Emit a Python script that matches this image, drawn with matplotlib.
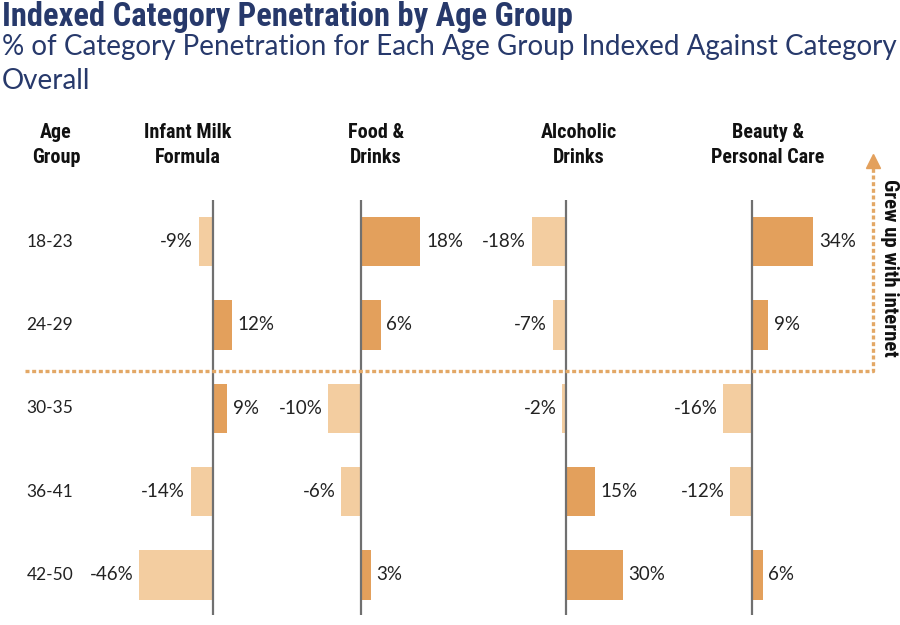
import matplotlib
matplotlib.use("Agg")
import matplotlib.pyplot as plt
from matplotlib import font_manager, transforms
from matplotlib.lines import Line2D

age_groups = ["18-23", "24-29", "30-35", "36-41", "42-50"]
categories = ["Infant Milk\nFormula", "Food &\nDrinks", "Alcoholic\nDrinks", "Beauty &\nPersonal Care"]
infant_milk = [-9, 12, 9, -14, -46]
food_drinks = [18, 6, -10, -6, 3]
alcoholic = [-18, -7, -2, 15, 30]
beauty = [34, 9, -16, -12, 6]
series = [infant_milk, food_drinks, alcoholic, beauty]


def pick_font(names):
    have = {f.name for f in font_manager.fontManager.ttflist}
    for n in names:
        if n in have:
            return n
    return "DejaVu Sans"


narrow = pick_font(["Roboto Condensed", "Liberation Sans Narrow", "Open Sans Condensed", "Roboto"])
plain = pick_font(["Lato", "Open Sans", "Roboto"])

navy = "#27396b"
pos_col = "#e3a05c"
neg_col = "#f3cda0"
line_col = "#e3a866"

W, H = 900, 625
fig = plt.figure(figsize=(9, 6.25), dpi=100)

# panel layout in pixels: zero line x and pixels per percent point
zero_px = [213, 361, 566, 752]
px_per_pct = [1.6, 3.3, 1.9, 1.8]
head_x = [188, 376, 579, 768]
half_w = 90
top_px, bot_px = 200, 615

axes = []
for k, vals in enumerate(series):
    ax = fig.add_axes([(zero_px[k] - half_w) / W, 1 - bot_px / H,
                       2 * half_w / W, (bot_px - top_px) / H])
    ax.set_xlim(-half_w / px_per_pct[k], half_w / px_per_pct[k])
    ax.set_ylim(4.48, -0.5)
    ax.axis("off")
    ax.axvline(0, color="#707070", lw=1.6, zorder=3)
    cols = [pos_col if v > 0 else neg_col for v in vals]
    ax.barh(range(len(vals)), vals, height=0.59, color=cols, zorder=2)
    for i, v in enumerate(vals):
        off = 4 if v > 0 else -4
        ax.annotate(f"{v}%", xy=(v, i), xytext=(off, 0), textcoords="offset points",
                    ha="left" if v > 0 else "right", va="center",
                    fontsize=13.5, color="#222222", family=plain)
    hdr_tr = transforms.blended_transform_factory(fig.transFigure, ax.transData)
    ax.text(head_x[k] / W, -0.9, categories[k], ha="center", va="bottom",
            fontsize=14.5, fontweight="bold", family=narrow, color="#111111",
            transform=hdr_tr, linespacing=1.4)
    axes.append(ax)

row_tr = transforms.blended_transform_factory(fig.transFigure, axes[0].transData)
for i, a in enumerate(age_groups):
    fig.text(50 / W, i, a, transform=row_tr, ha="center", va="center",
             fontsize=12.5, family=plain, color="#222222")
fig.text(56 / W, -0.9, "Age\nGroup", transform=row_tr, ha="center", va="bottom",
         fontsize=14.5, fontweight="bold", family=narrow, color="#111111", linespacing=1.4)

fig.text(2 / W, 1 - 1 / H, "Indexed Category Penetration by Age Group", ha="left", va="top",
         fontsize=23.5, fontweight="bold", family=narrow, color=navy)
fig.text(2 / W, 1 - 34 / H, "% of Category Penetration for Each Age Group Indexed Against Category\nOverall",
         ha="left", va="top", fontsize=20, family=plain, color=navy, linespacing=1.4)

# dotted divider and arrow for the "grew up with internet" groups
y_div = 1 - 371 / H
x_arr = 873 / W
fig.add_artist(Line2D([25 / W, x_arr, x_arr], [y_div, y_div, 1 - 168 / H],
                      color=line_col, lw=2.4, linestyle=(0, (1.2, 0.8)), solid_capstyle="butt"))
fig.add_artist(Line2D([x_arr], [1 - 161 / H], marker="^", markersize=10,
                      color=pos_col, linestyle="none"))
fig.text(889 / W, 1 - 268 / H, "Grew up with internet", rotation=-90, ha="center", va="center",
         fontsize=15, fontweight="bold", family=narrow, color="#111111")

fig.savefig("out.png", dpi=100)
